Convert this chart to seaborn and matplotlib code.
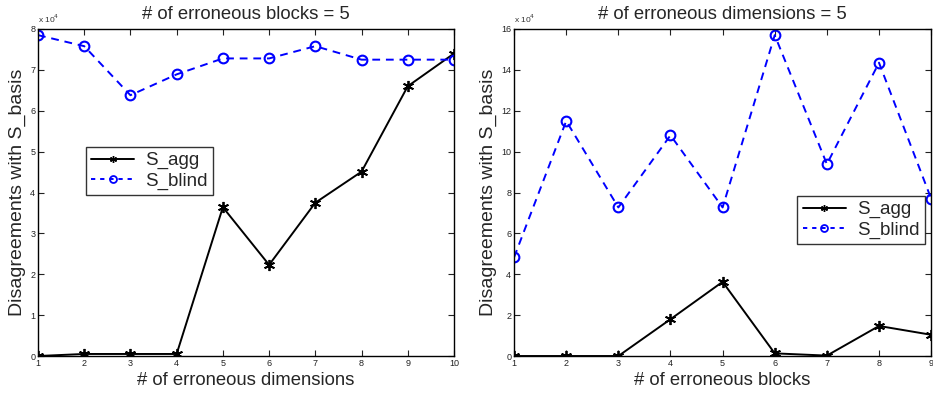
import numpy as np
import pandas as pd
import matplotlib
matplotlib.use("Agg")
import matplotlib.pyplot as plt
from matplotlib.lines import Line2D
import seaborn as sns
from matplotlib.ticker import FuncFormatter, MultipleLocator

# Disagreement counts vs. number of erroneous dimensions (5 erroneous blocks)
dims = [1, 2, 3, 4, 5, 6, 7, 8, 9, 10]
agg_by_dims = [0, 500, 500, 500, 36400, 22300, 37500, 45100, 66000, 74000]
blind_by_dims = [78500, 75800, 63800, 68900, 72800, 72800, 75800, 72500, 72500, 72500]

# Disagreement counts vs. number of erroneous blocks (5 erroneous dimensions)
blocks = [1, 2, 3, 4, 5, 6, 7, 8, 9]
agg_by_blocks = [0, 0, 0, 18000, 36300, 1300, 200, 14700, 10400]
blind_by_blocks = [48300, 115000, 72700, 108000, 72700, 157000, 93900, 143500, 77000]

series_names = ["S_agg", "S_blind"]
titles = ["# of erroneous blocks = 5", "# of erroneous dimensions = 5"]
xlabels = ["# of erroneous dimensions", "# of erroneous blocks"]
ylabel = "Disagreements with S_basis"

BLUE = "#0000ff"
STAR = (6, 2, 0)

sns.set_theme(style="white")
plt.rcParams["font.family"] = ["Liberation Sans", "DejaVu Sans"]

fig = plt.figure(figsize=(9.33, 3.94), dpi=100)
ax1 = fig.add_axes([0.0407, 0.0964, 0.4459, 0.830])
ax2 = fig.add_axes([0.551, 0.0964, 0.447, 0.830])


def draw(ax, x, agg, blind, ylim, ystep):
    df = pd.DataFrame({"x": x, series_names[0]: agg, series_names[1]: blind})
    sns.lineplot(data=df, x="x", y=series_names[0], ax=ax, color="black",
                 marker=STAR, markersize=8, markeredgewidth=1.3,
                 markeredgecolor="black", linewidth=1.4, legend=False)
    sns.lineplot(data=df, x="x", y=series_names[1], ax=ax, color=BLUE,
                 marker="o", markersize=7, markerfacecolor="none",
                 markeredgecolor=BLUE, markeredgewidth=1.5,
                 linewidth=1.4, dashes=(4, 3), legend=False)
    ax.set_xlim(x[0], x[-1])
    ax.set_ylim(*ylim)
    ax.set_xticks(x)
    ax.yaxis.set_major_locator(MultipleLocator(ystep))
    ax.yaxis.set_major_formatter(FuncFormatter(lambda v, p: f"{v / 1e4:g}"))
    ax.tick_params(direction="in", length=4, width=0.8, labelsize=6.5,
                   top=True, right=True, bottom=True, left=True, pad=2,
                   colors="#222222", labelcolor="#222222")
    for s in ax.spines.values():
        s.set_color("black")
        s.set_linewidth(1.0)
    ax.text(0.0, 1.012, r"x 10$^4$", transform=ax.transAxes, fontsize=6,
            ha="left", va="bottom", color="#333333")
    ax.set_ylabel(ylabel, fontsize=14, labelpad=3)


draw(ax1, dims, agg_by_dims, blind_by_dims, (0, 80000), 10000)
draw(ax2, blocks, agg_by_blocks, blind_by_blocks, (0, 160000), 20000)

for ax, t, xl in zip([ax1, ax2], titles, xlabels):
    ax.set_title(t, fontsize=13.3, pad=7)
    ax.set_xlabel(xl, fontsize=13.3, labelpad=3)

handles = [
    Line2D([], [], color="black", linewidth=1.4, marker=STAR, markersize=5,
           markeredgewidth=1.0),
    Line2D([], [], color=BLUE, linewidth=1.4, linestyle=(0, (2.2, 2.5)),
           marker="o", markersize=5, markerfacecolor="none",
           markeredgewidth=1.3),
]
leg_kw = dict(fontsize=13.5, frameon=True, fancybox=False, edgecolor="black",
              handlelength=2.3, borderpad=0.28, labelspacing=0.18,
              handletextpad=0.6, borderaxespad=0)
l1 = ax1.legend(handles, series_names, loc="upper left",
                bbox_to_anchor=(0.115, 0.64), **leg_kw)
l2 = ax2.legend(handles, series_names, loc="upper left",
                bbox_to_anchor=(0.679, 0.49), **leg_kw)
for lg in (l1, l2):
    lg.get_frame().set_linewidth(1.0)

fig.savefig("out.png", dpi=100)
